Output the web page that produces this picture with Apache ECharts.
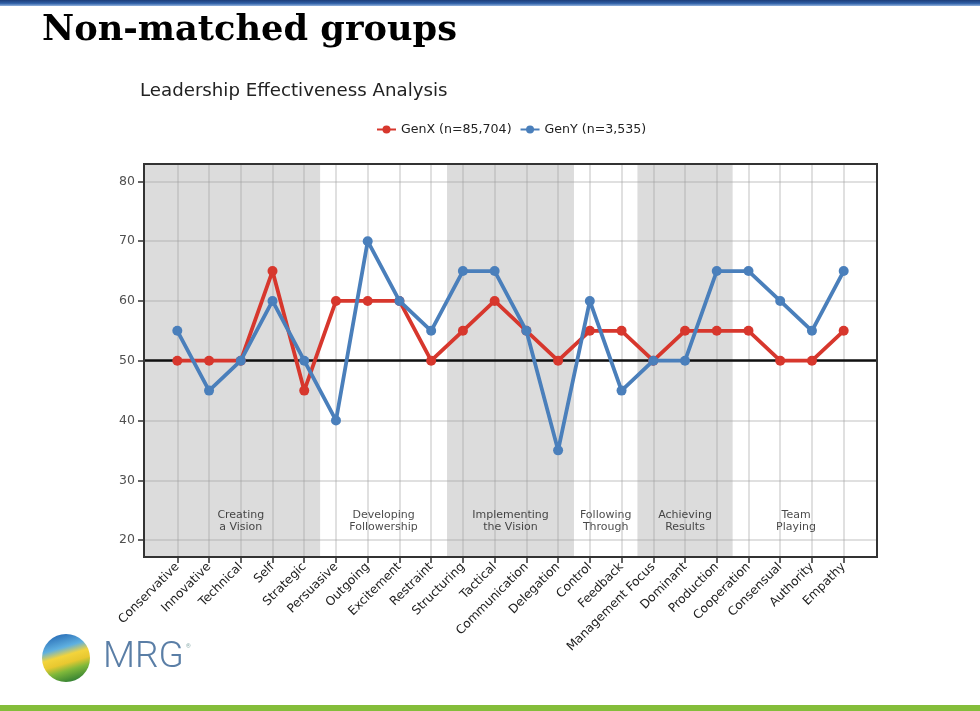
<!DOCTYPE html>
<html><head><meta charset="utf-8">
<script src="https://cdn.jsdelivr.net/npm/echarts@6/dist/echarts.min.js"></script>
<style>html,body{margin:0;padding:0;background:#fff}#c{width:980px;height:711px}</style>
</head><body><div id="c"></div>
<script>
// ---- data ----
const categories = ['Conservative','Innovative','Technical','Self','Strategic','Persuasive','Outgoing','Excitement','Restraint','Structuring','Tactical','Communication','Delegation','Control','Feedback','Management Focus','Dominant','Production','Cooperation','Consensual','Authority','Empathy'];
const genX = [50,50,50,65,45,60,60,60,50,55,60,55,50,55,55,50,55,55,55,50,50,55];
const genY = [55,45,50,60,50,40,70,60,55,65,65,55,35,60,45,50,50,65,65,60,55,65];
const seriesNames = ['GenX (n=85,704)','GenY (n=3,535)'];
const yTicks = [20,30,40,50,60,70,80];
const groupNames = ['Creating\na Vision','Developing\nFollowership','Implementing\nthe Vision','Following\nThrough','Achieving\nResults','Team\nPlaying'];
const groupStart = [0,5,9,13,15,18];
const groupEnd = [4,8,12,14,17,21];
const groupShaded = [true,false,true,false,true,false];
const referenceValue = 50;
const mainTitle = 'Non-matched groups';
const chartTitle = 'Leadership Effectiveness Analysis';

// ---- layout ----
const GRID_LEFT = 144, GRID_TOP = 164, GRID_W = 733, GRID_H = 393;
const X_PAD = 1.05;
const N = categories.length;
const X_MIN = -X_PAD, X_MAX = N - 1 + X_PAD;
const pxPerCat = GRID_W / (X_MAX - X_MIN);
const Y_MIN = 17.16, Y_MAX = 82.91;
const LABEL_Y = 23.15;

const bands = [];
groupStart.forEach((s, i) => {
  if (!groupShaded[i]) return;
  const a = s === 0 ? X_MIN : s - 0.5;
  const b = groupEnd[i] === N - 1 ? X_MAX : groupEnd[i] + 0.5;
  bands.push([{ xAxis: a }, { xAxis: b }]);
});
const groupLabelData = groupNames.map((g, i) => ({ name: g, value: [(groupStart[i] + groupEnd[i]) / 2, LABEL_Y] }));

const gridLine = { color: 'rgba(160,160,160,0.32)', width: 2 };
const RED = '#d7372d', BLUE = '#4a7fbb';

const chart = echarts.init(document.getElementById('c'));
chart.setOption({
  animation: false,
  backgroundColor: '#fff',
  title: [
    { text: mainTitle, left: 42, top: 13, padding: 0,
      textStyle: { fontFamily: 'DejaVu Serif', fontSize: 35.2, fontWeight: 'bold', color: '#000' } },
    { text: chartTitle, left: 140, top: 82, padding: 0,
      textStyle: { fontFamily: 'DejaVu Sans', fontSize: 18.2, fontWeight: 'normal', color: '#222' } }
  ],
  legend: {
    left: 376, top: 123, padding: 0, itemWidth: 19, itemHeight: 10, itemGap: 8,
    textStyle: { fontFamily: 'DejaVu Sans', fontSize: 12.6, color: '#222' },
    data: seriesNames
  },
  grid: [
    { left: GRID_LEFT, top: GRID_TOP, width: GRID_W, height: GRID_H, show: true,
      borderColor: '#333', borderWidth: 2, backgroundColor: 'transparent', z: 10 },
    { left: GRID_LEFT + X_PAD * pxPerCat, top: GRID_TOP, width: (N - 1) * pxPerCat, height: GRID_H }
  ],
  xAxis: [
    { gridIndex: 0, type: 'value', min: X_MIN, max: X_MAX, show: false, axisLine: { onZero: false } },
    { gridIndex: 1, type: 'category', data: categories, boundaryGap: false, z: 1.5,
      axisLine: { show: false, onZero: false },
      axisTick: { show: true, interval: 0, length: 6, lineStyle: { color: '#333', width: 1.5 } },
      axisLabel: { interval: 0, rotate: 45, fontSize: 12.2, color: '#222', fontFamily: 'DejaVu Sans', margin: 8 },
      splitLine: { show: true, interval: 0, lineStyle: gridLine } }
  ],
  yAxis: [
    { gridIndex: 0, type: 'value', min: Y_MIN, max: Y_MAX, z: 1.5,
      axisLine: { show: false, onZero: false },
      axisTick: { show: true, length: 6, customValues: yTicks, lineStyle: { color: '#333', width: 1.5 } },
      axisLabel: { customValues: yTicks, fontSize: 12.5, color: '#505050', fontFamily: 'DejaVu Sans', margin: 9 },
      splitLine: { show: true, lineStyle: gridLine } },
    { gridIndex: 1, type: 'value', min: Y_MIN, max: Y_MAX, show: false, axisLine: { onZero: false } }
  ],
  series: [
    { type: 'line', xAxisIndex: 0, yAxisIndex: 0, data: [], z: 1, silent: true,
      markArea: { z: 1, silent: true, itemStyle: { color: '#dcdcdc' }, data: bands } },
    { type: 'scatter', xAxisIndex: 0, yAxisIndex: 0, z: 2.5, silent: true, symbolSize: 0,
      data: groupLabelData,
      label: { show: true, position: 'inside', formatter: p => p.name, color: '#1a1a1a',
        fontFamily: 'DejaVu Sans', fontSize: 11, lineHeight: 12, align: 'center', verticalAlign: 'middle' },
      markLine: { z: 2.5, silent: true, symbol: 'none', label: { show: false },
        lineStyle: { color: '#111', width: 2.5, type: 'solid' }, data: [{ yAxis: referenceValue }] } },
    { name: seriesNames[0], type: 'line', xAxisIndex: 1, yAxisIndex: 1, data: genX, z: 3,
      color: RED, symbol: 'circle', symbolSize: 10, lineStyle: { width: 3.8 } },
    { name: seriesNames[1], type: 'line', xAxisIndex: 1, yAxisIndex: 1, data: genY, z: 4,
      color: BLUE, symbol: 'circle', symbolSize: 10, lineStyle: { width: 3.8 } }
  ],
  graphic: [
    { type: 'rect', shape: { x: 0, y: 0, width: 980, height: 6 },
      style: { fill: new echarts.graphic.LinearGradient(0, 0, 0, 1, [
        { offset: 0, color: '#1d3c78' }, { offset: 0.55, color: '#2f5fa6' }, { offset: 1, color: '#93b3de' }]) } },
    { type: 'rect', shape: { x: 0, y: 705, width: 980, height: 6 }, style: { fill: '#84bd3a' } },
    { type: 'circle', shape: { cx: 66, cy: 658, r: 24 },
      style: { fill: new echarts.graphic.LinearGradient(0.35, 0, 0.65, 1, [
        { offset: 0, color: '#2a6fb8' }, { offset: 0.28, color: '#5fb0e0' }, { offset: 0.45, color: '#f3d43c' },
        { offset: 0.6, color: '#e8c830' }, { offset: 0.75, color: '#7fb83a' }, { offset: 1, color: '#2e7d32' }]) } },
    { type: 'text', x: 103, y: 639, style: { text: 'MRG', font: '300 37px Roboto', fill: '#5a7ea6' } },
    { type: 'text', x: 186, y: 643, style: { text: '®', font: '6px Roboto', fill: '#8aa' } }
  ]
});
</script></body></html>
